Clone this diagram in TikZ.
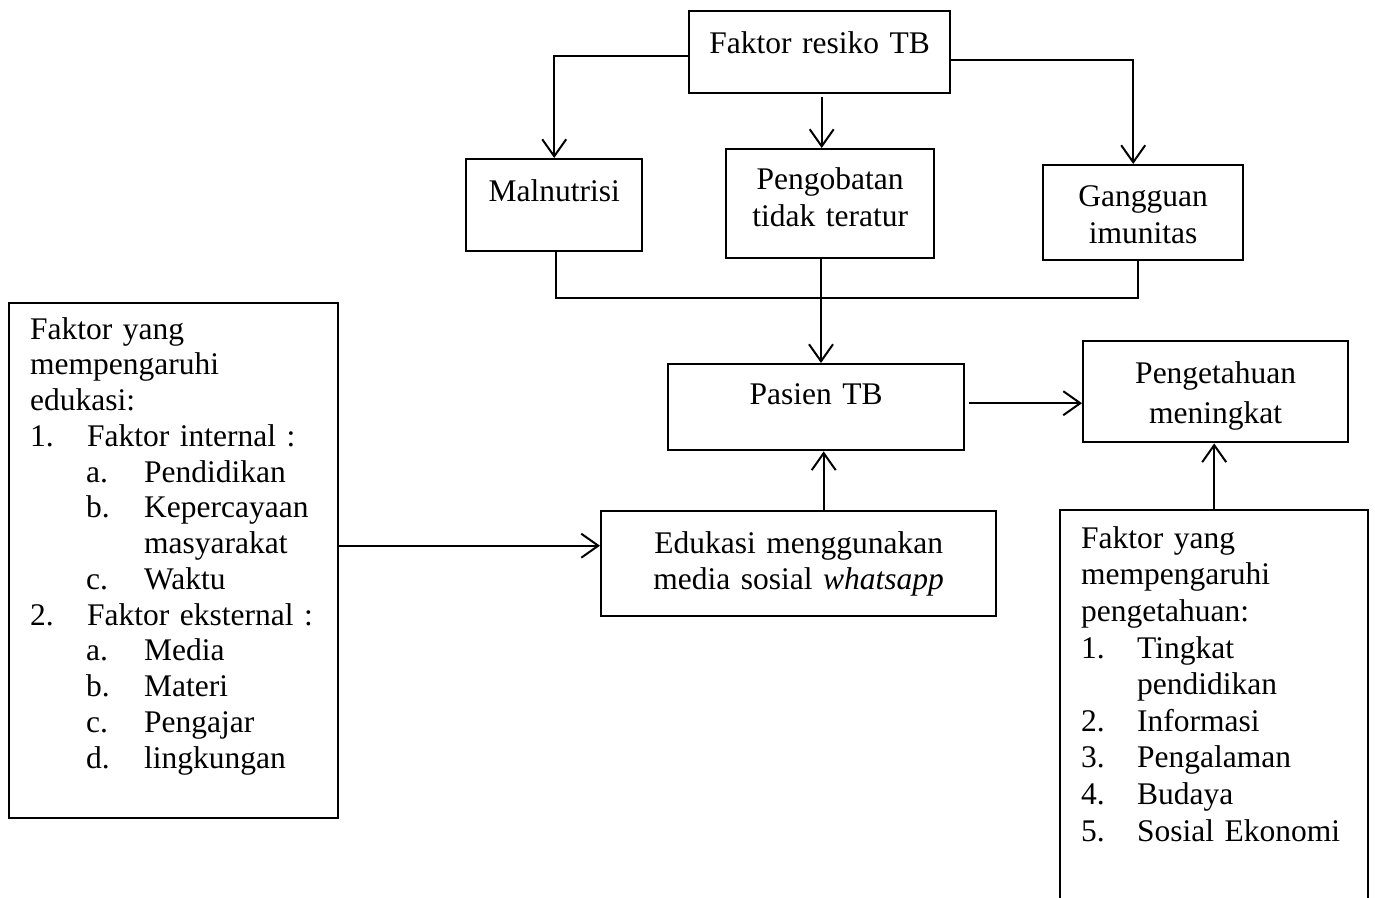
\documentclass[tikz,border=0pt]{standalone}
\usepackage{fontspec}
\setmainfont{Liberation Serif}
\usetikzlibrary{arrows.meta}

\begin{document}
\begin{tikzpicture}[x=1pt, y=-1pt, font=\fontsize{31.5}{37}\selectfont]
\tikzstyle{kotak}=[draw, line width=2.4pt, anchor=north west, inner sep=0pt, align=center]
\tikzstyle{daftar}=[kotak, align=left, inner xsep=21pt]
\tikzstyle{panah}=[line width=2pt, -{Straight Barb[length=17pt,width=24pt,line width=2pt]}]
\tikzstyle{garis}=[line width=2pt]
  \useasboundingbox (0,0) rectangle (1375,897);

  % kotak atas
  \node[kotak, text width=261pt, text height=42pt, text depth=40pt] (faktor) at (688,10) {Faktor resiko TB};
  \node[kotak, text width=176pt, text height=42pt, text depth=50pt] (maln) at (465,158) {Malnutrisi};
  \node[kotak, text width=208pt, text height=40pt, text depth=69pt] (pengob) at (725,148) {Pengobatan\\tidak teratur};
  \node[kotak, text width=200pt, text height=41pt, text depth=54pt] (gangg) at (1042,164) {Gangguan\\imunitas};

  % kotak tengah
  \node[kotak, text width=296pt, text height=40pt, text depth=46pt] (pasien) at (667,363) {Pasien TB};
  \node[kotak, text width=265pt, text height=42pt, text depth=59pt,
        font=\fontsize{31.5}{40}\selectfont] (penget) at (1082,340) {Pengetahuan\\meningkat};
  \node[kotak, text width=395pt, text height=42pt, text depth=63pt,
        font=\fontsize{31.5}{36}\selectfont] (eduk) at (600,510) {Edukasi menggunakan\\media sosial \textit{whatsapp}};

  % kotak daftar faktor
  \node[daftar, text width=287pt, text height=36pt, text depth=479pt,
        font=\fontsize{31.5}{35.75}\selectfont] (kiri) at (8,302)
    {Faktor yang\\
     mempengaruhi\\
     edukasi:\\
     \makebox[57pt][l]{1.}Faktor internal :\\
     \hspace*{56pt}\makebox[58pt][l]{a.}Pendidikan\\
     \hspace*{56pt}\makebox[58pt][l]{b.}Kepercayaan\\
     \hspace*{114pt}masyarakat\\
     \hspace*{56pt}\makebox[58pt][l]{c.}Waktu\\
     \makebox[57pt][l]{2.}Faktor eksternal :\\
     \hspace*{56pt}\makebox[58pt][l]{a.}Media\\
     \hspace*{56pt}\makebox[58pt][l]{b.}Materi\\
     \hspace*{56pt}\makebox[58pt][l]{c.}Pengajar\\
     \hspace*{56pt}\makebox[58pt][l]{d.}lingkungan};
  \node[daftar, text width=266pt, text height=38pt, text depth=413pt,
        font=\fontsize{31.5}{36.6}\selectfont] (kanan) at (1059,509)
    {Faktor yang\\
     mempengaruhi\\
     pengetahuan:\\
     \makebox[56pt][l]{1.}Tingkat\\
     \hspace*{56pt}pendidikan\\
     \makebox[56pt][l]{2.}Informasi\\
     \makebox[56pt][l]{3.}Pengalaman\\
     \makebox[56pt][l]{4.}Budaya\\
     \makebox[56pt][l]{5.}Sosial Ekonomi};

  \coordinate (temu) at (821,298);

  % panah
  \draw[panah] ([yshift=-4pt]faktor.west) -| (maln.north);
  \draw[panah] ([xshift=2pt,yshift=-3pt]faktor.south) -- ([xshift=2pt]faktor.south |- pengob.north);
  \draw[panah] ([yshift=-8pt]faktor.east) -| ([xshift=-10pt]gangg.north);
  \draw[garis] ([xshift=2pt]maln.south) |- (temu) -| ([xshift=-5pt]gangg.south);
  \draw[garis] (temu |- pengob.south) -- (temu);
  \draw[panah] (temu) -- (temu |- pasien.north);
  \draw[panah] ([xshift=4pt,yshift=4pt]pasien.east) -- ([yshift=4pt]pasien.east -| penget.west);
  \draw[panah] ([xshift=25pt]eduk.north) -- ([xshift=25pt]eduk.north |- pasien.south);
  \draw[panah] ([yshift=15pt]kiri.east) -- ([yshift=15pt]kiri.east -| eduk.west);
  \draw[panah] (kanan.north) -- (kanan.north |- penget.south);
\end{tikzpicture}
\end{document}
